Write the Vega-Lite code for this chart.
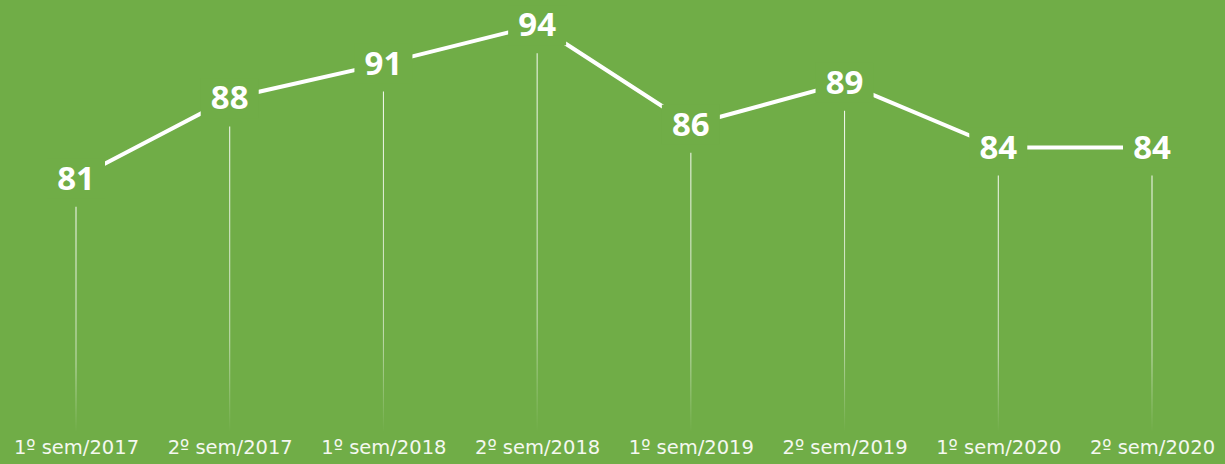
{
  "$schema": "https://vega.github.io/schema/vega-lite/v6.json",
  "width": 1225,
  "height": 432,
  "autosize": {"type": "none"},
  "padding": {"left": 0, "top": 0, "right": 0, "bottom": 32},
  "background": "#70AD47",
  "config": {"view": {"stroke": null}},
  "data": {"values": [
    {"periodo": "1º sem/2017", "valor": 81.1},
    {"periodo": "2º sem/2017", "valor": 87.8},
    {"periodo": "1º sem/2018", "valor": 90.7},
    {"periodo": "2º sem/2018", "valor": 93.9},
    {"periodo": "1º sem/2019", "valor": 85.6},
    {"periodo": "2º sem/2019", "valor": 89.1},
    {"periodo": "1º sem/2020", "valor": 83.7},
    {"periodo": "2º sem/2020", "valor": 83.7}
  ]},
  "encoding": {
    "x": {
      "field": "periodo", "type": "ordinal", "sort": null,
      "scale": {"type": "point", "range": [76, 1152], "padding": 0},
      "axis": {"title": null, "domain": false, "ticks": false, "grid": false, "labelAngle": 0,
               "labelColor": "#F4F8F0", "labelFont": "DejaVu Sans", "labelFontSize": 19.5, "labelPadding": 6}
    },
    "y": {
      "field": "valor", "type": "quantitative",
      "scale": {"domain": [60, 96], "nice": false, "zero": false},
      "axis": null
    }
  },
  "layer": [
    {
      "mark": {"type": "bar", "size": 1, "yOffset": 28,
        "fill": {"gradient": "linear", "x1": 0, "y1": 0, "x2": 0, "y2": 1,
          "stops": [{"offset": 0, "color": "rgba(255,255,255,0.95)"}, {"offset": 0.7, "color": "rgba(255,255,255,0.6)"}, {"offset": 1, "color": "rgba(255,255,255,0)"}]}},
      "encoding": {"y2": {"datum": 60}}
    },
    {
      "mark": {"type": "line", "color": "#FFFFFF", "strokeWidth": 4}
    },
    {
      "mark": {"type": "point", "shape": "M-1,-0.69H1V0.69H-1Z", "filled": true, "fill": "#70AD47", "opacity": 1, "size": 3364}
    },
    {
      "mark": {"type": "text", "font": "Open Sans", "fontWeight": "bold", "fontSize": 33, "color": "#FFFFFF", "align": "center", "baseline": "middle", "dy": 1},
      "encoding": {"text": {"field": "valor", "type": "quantitative", "format": ".0f"}}
    }
  ]
}
